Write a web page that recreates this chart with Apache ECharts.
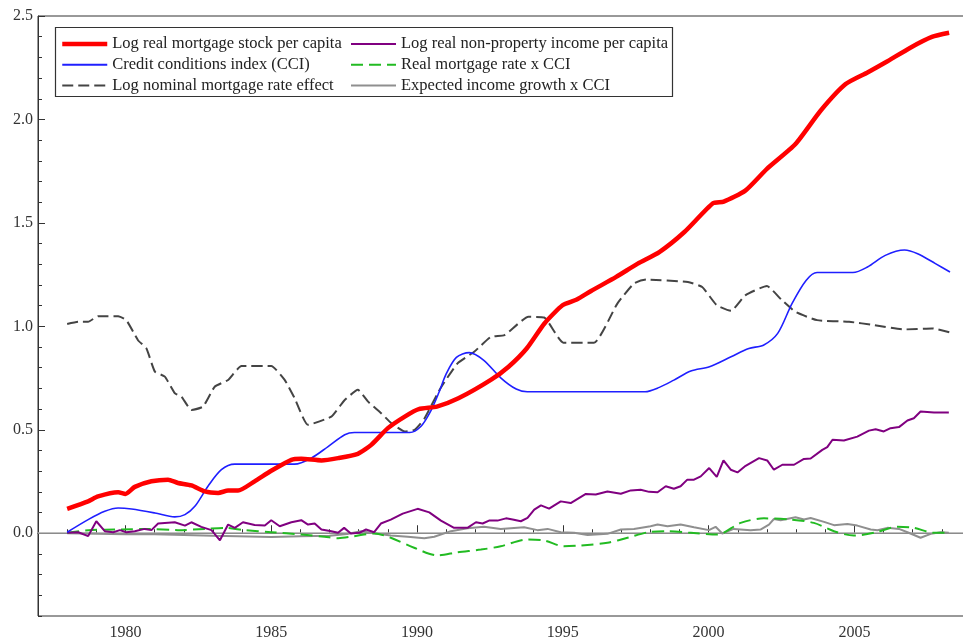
<!DOCTYPE html>
<html>
<head>
<meta charset="utf-8">
<title>Mortgage stock, credit conditions and income</title>
<script src="https://cdn.jsdelivr.net/npm/echarts@6/dist/echarts.min.js"></script>
<style>
  html, body { margin: 0; padding: 0; background: #ffffff; }
  #chart { width: 963px; height: 642px; }
</style>
</head>
<body>
<div id="chart"></div>
<script>
const mortgageYears = [1978.0,1978.72,1979.06,1979.75,1980.0,1980.32,1980.89,1981.46,1981.8,1982.26,1982.72,1983.18,1983.52,1983.86,1984.43,1985.0,1985.69,1986.03,1986.72,1987.29,1987.97,1988.43,1989.0,1989.58,1990.06,1990.68,1991.42,1992.53,1993.14,1993.76,1994.37,1994.99,1995.48,1995.97,1996.83,1997.57,1998.31,1999.17,2000.15,2000.52,2001.26,2002.0,2002.98,2003.84,2004.7,2005.45,2006.06,2006.92,2007.66,2008.25];
const mortgageStock = [0.118,0.154,0.178,0.198,0.19,0.224,0.251,0.259,0.243,0.231,0.202,0.195,0.206,0.206,0.251,0.302,0.355,0.36,0.352,0.363,0.384,0.427,0.508,0.564,0.600,0.612,0.652,0.741,0.805,0.893,1.014,1.102,1.13,1.171,1.239,1.303,1.359,1.456,1.595,1.603,1.656,1.761,1.881,2.042,2.171,2.227,2.275,2.347,2.399,2.419];

const cciYears = [1978.0,1978.72,1979.29,1979.75,1980.21,1981.01,1981.69,1982.04,1982.38,1982.83,1983.29,1983.75,1985.8,1986.37,1986.95,1987.52,1987.85,1989.75,1990.13,1990.45,1990.75,1991.0,1991.35,1991.79,1992.28,1992.88,1993.4,1993.78,1997.82,1998.31,1998.81,1999.39,2000.03,2000.77,2001.38,2001.88,2002.37,2002.86,2003.35,2003.72,2004.95,2005.45,2006.06,2006.72,2007.17,2007.78,2008.28];
const cciValues = [0.005,0.066,0.106,0.122,0.117,0.098,0.079,0.09,0.13,0.227,0.307,0.334,0.334,0.363,0.419,0.476,0.487,0.487,0.516,0.585,0.68,0.77,0.85,0.873,0.837,0.75,0.697,0.684,0.684,0.705,0.74,0.784,0.805,0.853,0.893,0.909,0.966,1.11,1.223,1.26,1.26,1.287,1.343,1.369,1.351,1.303,1.263];

const rateYears = [1978.0,1978.38,1978.72,1979.06,1979.75,1980.03,1980.43,1980.72,1981.01,1981.35,1981.69,1981.92,1982.26,1982.66,1983.06,1983.52,1983.98,1985.0,1985.46,1985.8,1986.26,1987.06,1987.52,1987.97,1988.32,1988.77,1989.12,1989.58,1989.92,1990.26,1990.8,1991.39,1991.96,1992.53,1993.0,1993.82,1994.36,1995.02,1996.07,1996.87,1997.44,1997.86,1999.29,1999.78,2000.28,2000.77,2001.26,2002.0,2002.49,2002.98,2003.72,2004.82,2005.69,2006.68,2007.66,2008.28];
const rateEffect = [1.011,1.022,1.022,1.049,1.049,1.03,0.933,0.893,0.781,0.757,0.677,0.66,0.596,0.612,0.708,0.741,0.808,0.808,0.741,0.653,0.524,0.564,0.644,0.693,0.636,0.58,0.532,0.492,0.5,0.556,0.70,0.821,0.877,0.949,0.958,1.046,1.043,0.921,0.921,1.11,1.207,1.226,1.214,1.19,1.102,1.075,1.15,1.195,1.13,1.07,1.03,1.022,1.006,0.985,0.99,0.971];

const incomeYears = [1978.0,1978.38,1978.72,1979.0,1979.29,1979.58,1979.81,1980.03,1980.32,1980.66,1980.89,1981.12,1981.69,1982.04,1982.26,1982.6,1982.95,1983.24,1983.52,1983.75,1984.03,1984.43,1984.78,1985.0,1985.29,1985.69,1986.03,1986.26,1986.49,1986.72,1987.06,1987.29,1987.5,1987.73,1988.02,1988.25,1988.53,1988.76,1989.1,1989.51,1990.02,1990.42,1990.82,1991.27,1991.73,1992.02,1992.25,1992.47,1992.76,1993.05,1993.28,1993.56,1993.79,1994.02,1994.25,1994.53,1994.93,1995.27,1995.79,1996.13,1996.53,1996.99,1997.33,1997.67,1997.96,1998.25,1998.53,1998.81,1999.04,1999.27,1999.5,1999.73,2000.02,2000.28,2000.51,2000.76,2000.99,2001.27,2001.73,2002.01,2002.24,2002.53,2002.93,2003.27,2003.5,2003.9,2004.07,2004.25,2004.64,2005.1,2005.5,2005.73,2006.01,2006.24,2006.53,2006.82,2007.04,2007.27,2007.73,2008.24];
const incomeValues = [0.002,0.005,-0.014,0.058,0.01,0.005,0.015,0.005,0.01,0.021,0.015,0.047,0.053,0.037,0.053,0.031,0.015,-0.034,0.042,0.026,0.053,0.04,0.037,0.063,0.034,0.053,0.063,0.042,0.047,0.018,0.01,0.002,0.026,-0.001,0.002,0.018,0.005,0.047,0.066,0.095,0.118,0.101,0.061,0.026,0.026,0.053,0.047,0.061,0.061,0.072,0.066,0.058,0.074,0.114,0.135,0.119,0.154,0.146,0.19,0.187,0.202,0.191,0.207,0.21,0.2,0.198,0.227,0.215,0.227,0.259,0.259,0.275,0.315,0.272,0.352,0.307,0.294,0.326,0.363,0.352,0.307,0.331,0.331,0.359,0.361,0.403,0.416,0.452,0.448,0.467,0.496,0.503,0.492,0.508,0.513,0.545,0.556,0.588,0.583,0.583];

const realRateYears = [1978.0,1978.72,1979.86,1980.78,1981.8,1982.72,1983.4,1984.09,1985.0,1986.03,1986.83,1987.3,1987.85,1988.53,1989.1,1989.9,1990.7,1991.39,1992.19,1992.87,1993.79,1994.36,1995.04,1995.62,1996.53,1997.22,1997.9,1998.59,1999.39,2000.3,2001.1,2001.9,2002.81,2003.61,2004.3,2004.98,2005.67,2006.47,2007.04,2007.73,2008.24];
const realRateCci = [0.002,0.015,0.018,0.021,0.015,0.021,0.026,0.015,0.005,-0.006,-0.017,-0.024,-0.014,-0.001,-0.022,-0.07,-0.107,-0.092,-0.079,-0.063,-0.03,-0.035,-0.063,-0.059,-0.046,-0.022,0.004,0.01,0.002,-0.006,0.05,0.072,0.066,0.05,0.01,-0.011,0.002,0.031,0.026,0.002,0.002];

const growthYears = [1978.0,1979.0,1980.0,1981.0,1982.0,1983.0,1983.86,1985.0,1986.0,1987.0,1987.6,1988.08,1988.53,1989.1,1989.68,1990.25,1990.59,1991.16,1991.73,1992.3,1992.87,1993.67,1994.13,1994.48,1994.93,1995.39,1995.85,1996.53,1996.99,1997.44,1998.01,1998.25,1998.59,1999.04,1999.5,2000.01,2000.24,2000.47,2000.86,2001.44,2001.78,2002.07,2002.24,2002.47,2002.98,2003.27,2003.5,2003.96,2004.3,2004.76,2005.1,2005.56,2005.79,2006.13,2006.53,2006.82,2007.27,2007.62,2007.96,2008.24];
const growthCci = [0.0,-0.003,-0.005,-0.005,-0.008,-0.012,-0.014,-0.018,-0.015,-0.012,-0.004,0.01,0.0,-0.011,-0.017,-0.024,-0.017,0.01,0.024,0.031,0.021,0.029,0.015,0.021,0.005,0.002,-0.008,-0.003,0.018,0.021,0.034,0.042,0.034,0.042,0.029,0.015,0.031,-0.001,0.021,0.015,0.018,0.042,0.069,0.063,0.077,0.066,0.074,0.055,0.039,0.045,0.037,0.018,0.014,0.026,0.021,0.005,-0.022,-0.003,0.005,0.002];

// ---- axis ticks ----
const xLabelYears = [1980, 1985, 1990, 1995, 2000, 2005];
const xMinorYears = [];
for (let y = 1978; y <= 2008; y++) xMinorYears.push(y);
const yLabelValues = [0, 0.5, 1.0, 1.5, 2.0, 2.5];
const yMinorValues = [];
for (let k = -4; k <= 25; k++) yMinorValues.push(k / 10);

const SERIF = '"Liberation Serif", "Times New Roman", "DejaVu Serif", serif';
const AXIS_COLOR = '#333333';
const zip = (xs, ys) => xs.map((x, i) => [x, ys[i]]);

const NAMES = {
  mortgage: 'Log real mortgage stock per capita',
  cci: 'Credit conditions index (CCI)',
  rate: 'Log nominal mortgage rate effect',
  income: 'Log real non-property income per capita',
  realRate: 'Real mortgage rate x CCI',
  growth: 'Expected income growth x CCI'
};

// two overlaid grids: the first carries the main axes and labels,
// the second only the short minor ticks
const gridBox = { left: 38, top: 16, bottom: 26, right: -8, containLabel: false, outerBoundsMode: 'none' };

// legend keys are plain line samples (the marker dot is hidden)
const keyLine = (name, width) => ({ name: name, lineStyle: { width: width }, itemStyle: { opacity: 0 } });

const legendCommon = {
  orient: 'vertical',
  top: 35.5,
  padding: 0,
  itemWidth: 45,
  itemHeight: 14,
  itemGap: 3.8,
  selectedMode: false,
  textStyle: { fontFamily: SERIF, fontSize: 16.5, color: '#222222', lineHeight: 14 }
};

const option = {
  animation: false,
  backgroundColor: '#ffffff',
  grid: [
    Object.assign({ show: true, borderColor: AXIS_COLOR, borderWidth: 1, backgroundColor: 'transparent' }, gridBox),
    Object.assign({ show: false }, gridBox)
  ],
  legend: [
    Object.assign({}, legendCommon, {
      left: 60,
      data: [keyLine(NAMES.mortgage, 4.5), keyLine(NAMES.cci, 2), keyLine(NAMES.rate, 2)]
    }),
    Object.assign({}, legendCommon, {
      left: 350,
      data: [keyLine(NAMES.income, 2), keyLine(NAMES.realRate, 2), keyLine(NAMES.growth, 2)]
    })
  ],
  graphic: [{
    type: 'rect',
    shape: { x: 55.5, y: 27.5, width: 617, height: 69 },
    style: { fill: 'transparent', stroke: AXIS_COLOR, lineWidth: 1.2 },
    silent: true,
    z: 10
  }],
  xAxis: [
    {
      type: 'value', gridIndex: 0, min: 1977, max: 2009,
      axisLine: { lineStyle: { color: AXIS_COLOR, width: 1 } },
      axisTick: { inside: true, length: 8, customValues: xLabelYears, lineStyle: { color: AXIS_COLOR } },
      axisLabel: {
        customValues: xLabelYears, margin: 9,
        formatter: v => String(v),
        fontFamily: SERIF, fontSize: 16, color: '#333333'
      },
      splitLine: { show: false }
    },
    {
      type: 'value', gridIndex: 1, min: 1977, max: 2009,
      axisLine: { show: false },
      axisTick: { inside: true, length: 4, customValues: xMinorYears, lineStyle: { color: AXIS_COLOR } },
      axisLabel: { show: false },
      splitLine: { show: false }
    }
  ],
  yAxis: [
    {
      type: 'value', gridIndex: 0, min: -0.4, max: 2.5,
      axisLine: { show: true, lineStyle: { color: AXIS_COLOR, width: 1 } },
      axisTick: { show: true, inside: true, length: 7, customValues: yLabelValues, lineStyle: { color: AXIS_COLOR } },
      axisLabel: {
        customValues: yLabelValues, margin: 5,
        formatter: v => v.toFixed(1),
        fontFamily: SERIF, fontSize: 16, color: '#333333'
      },
      splitLine: { show: false }
    },
    {
      type: 'value', gridIndex: 1, min: -0.4, max: 2.5,
      axisLine: { show: false },
      axisTick: { show: true, inside: true, length: 4, customValues: yMinorValues, lineStyle: { color: AXIS_COLOR } },
      axisLabel: { show: false },
      splitLine: { show: false }
    }
  ],
  series: [
    {
      name: NAMES.growth, type: 'line', symbol: 'none',
      data: zip(growthYears, growthCci),
      lineStyle: { color: '#8f8f8f', width: 2 }, itemStyle: { color: '#8f8f8f' },
      markLine: {
        silent: true, symbol: ['none', 'none'], label: { show: false },
        lineStyle: { color: '#aaaaaa', width: 1.5, type: 'solid' },
        data: [{ yAxis: 0 }],
        z: 1
      }
    },
    {
      name: NAMES.realRate, type: 'line', symbol: 'none', smooth: 0.3,
      data: zip(realRateYears, realRateCci),
      lineStyle: { color: '#22bb22', width: 2, type: [12, 6] }, itemStyle: { color: '#22bb22' }
    },
    {
      name: NAMES.income, type: 'line', symbol: 'none',
      data: zip(incomeYears, incomeValues),
      lineStyle: { color: '#800080', width: 2 }, itemStyle: { color: '#800080' }
    },
    {
      name: NAMES.rate, type: 'line', symbol: 'none', smooth: 0.15,
      data: zip(rateYears, rateEffect),
      lineStyle: { color: '#444444', width: 2, type: [11, 5] }, itemStyle: { color: '#444444' }
    },
    {
      name: NAMES.cci, type: 'line', symbol: 'none', smooth: 0.3,
      data: zip(cciYears, cciValues),
      lineStyle: { color: '#1f1fff', width: 1.6 }, itemStyle: { color: '#1f1fff' }
    },
    {
      name: NAMES.mortgage, type: 'line', symbol: 'none', smooth: 0.2,
      data: zip(mortgageYears, mortgageStock),
      lineStyle: { color: '#ff0000', width: 4.5 }, itemStyle: { color: '#ff0000' }
    }
  ]
};

const chart = echarts.init(document.getElementById('chart'), null, { renderer: 'canvas' });
chart.setOption(option);
</script>
</body>
</html>
